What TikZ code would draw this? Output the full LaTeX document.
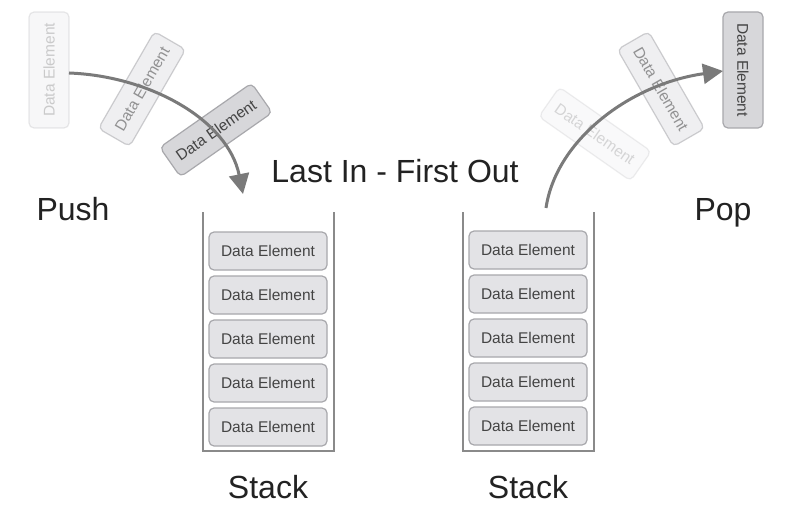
\documentclass[tikz,border=0pt]{standalone}
\usepackage{fontspec}
\setmainfont{Liberation Sans}
\usetikzlibrary{arrows.meta}
\definecolor{boxfill}{HTML}{E3E3E6}
\definecolor{boxdraw}{HTML}{A8A8AC}
\definecolor{boxtext}{HTML}{444444}
\definecolor{arrowgray}{HTML}{7A7A7A}
\definecolor{wallgray}{HTML}{8A8A8A}
\definecolor{bigtext}{HTML}{222222}
\begin{document}
\begin{tikzpicture}[x=1pt,y=-1pt,
  elem/.style={draw=boxdraw, fill=boxfill, line width=1.2pt, rounded corners=5pt,
    minimum width=118pt, minimum height=38pt, inner sep=0pt, text=boxtext,
    font=\fontsize{15.5}{17}\selectfont},
  bigtxt/.style={text=bigtext, font=\fontsize{32}{38}\selectfont, anchor=base, inner sep=0pt},
  wall/.style={draw=wallgray, line width=2pt},
  movearrow/.style={draw=arrowgray, line width=3pt, -{Triangle[length=20pt,width=20pt]}}]
\useasboundingbox (0,0) rectangle (792,513);
\fill[white] (0,0) rectangle (792,513);

% left stack
\draw[wall] (203,212) -- (203,451) -- (334,451) -- (334,212);
\foreach \i/\y in {1/251,2/295,3/339,4/383,5/427}
  \node[elem] (L\i) at (268,\y) {Data Element};
% right stack
\draw[wall] (463,212) -- (463,451) -- (594,451) -- (594,212);
\foreach \i/\y in {1/250,2/294,3/338,4/382,5/426}
  \node[elem] (R\i) at (528,\y) {Data Element};

% push boxes
\node[elem, rotate=90, opacity=0.25, minimum width=116pt, minimum height=40pt] (p1) at (49,70) {Data Element};
\node[elem, rotate=60, opacity=0.55, minimum width=112pt, minimum height=36pt] (p2) at (142,89) {Data Element};
\node[elem, rotate=35, fill=boxfill!88!gray, minimum width=112pt, minimum height=36pt] (p3) at (216,130) {Data Element};

% pop boxes
\node[elem, rotate=-90, fill=boxfill!88!gray, minimum width=116pt, minimum height=40pt] (q1) at (743,70) {Data Element};
\node[elem, rotate=-60, opacity=0.55, minimum width=112pt, minimum height=36pt] (q2) at (661,89) {Data Element};
\node[elem, rotate=-35, opacity=0.2, minimum width=112pt, minimum height=36pt] (q3) at (595,134) {Data Element};

% arrows
\coordinate (ps) at (69,73);
\coordinate (pe) at (243,194);
\draw[movearrow] (ps) .. controls (150,76) and (228,120) .. (pe);
\coordinate (qs) at (546,208);
\coordinate (qe) at (723,71);
\draw[movearrow] (qs) .. controls (556,140) and (630,84) .. (qe);

% labels
\node[bigtxt] (lifo) at (395,183) {Last In - First Out};
\node[bigtxt] (push) at (73,220) {Push};
\node[bigtxt] (pop) at (723,220) {Pop};
\node[bigtxt] (s1) at (268,498) {Stack};
\node[bigtxt] (s2) at (528,498) {Stack};
\end{tikzpicture}
\end{document}
